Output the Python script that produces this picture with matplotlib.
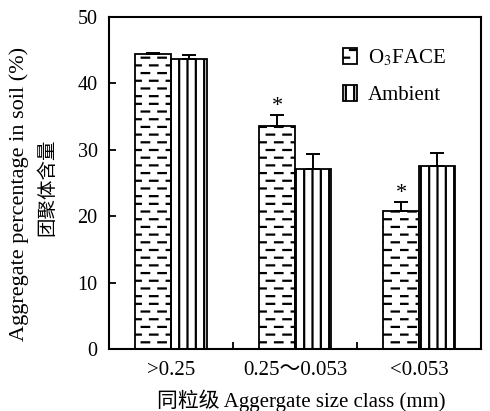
import numpy as np
import matplotlib
matplotlib.use('Agg')
import matplotlib.pyplot as plt
import matplotlib.hatch as mhatch
from matplotlib.path import Path

# data
classes = ['>0.25', '0.25～0.053', '<0.053']
face_vals = [44.4, 33.5, 20.8]
face_err = [0.15, 1.7, 1.3]
amb_vals = [43.7, 27.1, 27.6]
amb_err = [0.5, 2.3, 1.9]
face_sig = [False, True, True]


# staggered dash hatch instead of the plain horizontal lines
class DashHatch(mhatch.HatchPatternBase):
    def __init__(self, hatch, density):
        self.rows = 13 if '-' in hatch else 0
        self.per_row = 6
        self.num_vertices = self.rows * self.per_row * 2

    def set_vertices_and_codes(self, vertices, codes):
        k = 0
        step = 1.0 / self.per_row
        for r in range(self.rows):
            yy = (r + 0.5) / self.rows
            off = 0.0 if r % 2 == 0 else step / 2
            for c in range(self.per_row):
                x0 = c * step + off
                vertices[k] = (x0, yy)
                vertices[k + 1] = (x0 + step * 0.45, yy)
                codes[k] = Path.MOVETO
                codes[k + 1] = Path.LINETO
                k += 2


mhatch._hatch_types[0] = DashHatch

plt.rcParams['hatch.linewidth'] = 1.6
plt.rcParams['mathtext.fontset'] = 'stix'
fam = ['Liberation Serif', 'Noto Sans CJK SC']
plt.rcParams['font.family'] = fam

fig = plt.figure(figsize=(4.9, 4.11), dpi=100)
ax = fig.add_axes([0.222, 0.151, 0.76, 0.808])

x = np.arange(len(classes))
w = 0.29
ekw = dict(elinewidth=1.4, capthick=1.4, capsize=5, ecolor='k')
ax.bar(x - w / 2, face_vals, w, color='white', edgecolor='k', linewidth=1.3,
       hatch='-', yerr=[[0] * 3, face_err], error_kw=ekw, label='O$_3$FACE')
ax.bar(x + w / 2, amb_vals, w, color='white', edgecolor='k', linewidth=1.3,
       hatch='||', yerr=[[0] * 3, amb_err], error_kw=ekw, label='Ambient')

for i in range(len(classes)):
    if face_sig[i]:
        ax.text(x[i] - w / 2, face_vals[i] + face_err[i] - 0.2, '*',
                ha='center', va='bottom', fontsize=16)

ax.set_xlim(-0.5, 2.5)
ax.set_ylim(0, 50)
ax.set_yticks(range(0, 51, 10))
ax.set_xticks(x)
ax.set_xticklabels(classes)
ax.set_xticks([0.5, 1.5], minor=True)
ax.tick_params(axis='x', which='major', length=0, pad=9, labelsize=15)
ax.tick_params(axis='x', which='minor', direction='in', length=5, width=1.3)
ax.tick_params(axis='y', direction='in', length=5, width=1.3, labelsize=14.5, pad=8)
for s in ax.spines.values():
    s.set_linewidth(1.5)

# two-line y label, each line placed on its own
fig.text(19 / 490, 1 - 194 / 411, 'Aggregate percentage in soil (%)',
         rotation=90, ha='center', va='center', fontsize=16)
fig.text(47 / 490, 1 - 187 / 411, '团聚体含量',
         rotation=90, ha='center', va='center', fontsize=14)
fig.text(301 / 490, 1 - 401 / 411, '同粒级 Aggergate size class (mm)',
         ha='center', va='center', fontsize=15)

leg = ax.legend(loc='upper right', frameon=False, fontsize=15,
                handlelength=0.7, handleheight=0.8, handletextpad=0.5,
                labelspacing=0.8, bbox_to_anchor=(0.955, 0.965))

fig.savefig('out.png', dpi=100)
